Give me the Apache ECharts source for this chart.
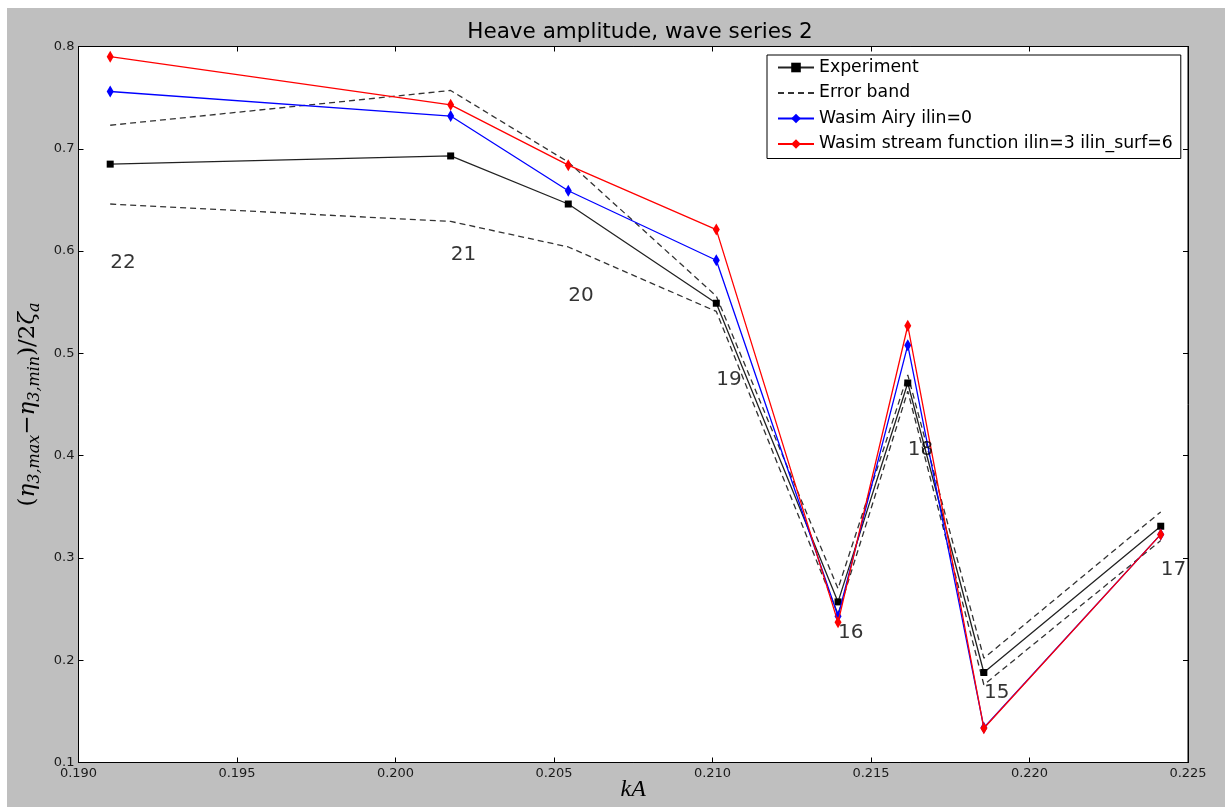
<!DOCTYPE html>
<html>
<head>
<meta charset="utf-8">
<title>Heave amplitude, wave series 2</title>
<script src="https://cdn.jsdelivr.net/npm/echarts@6/dist/echarts.min.js"></script>
<style>
  html, body { margin: 0; padding: 0; background: #ffffff; overflow: hidden; }
  #chart { position: absolute; left: 7px; top: 8px; width: 1218px; height: 799px; }
</style>
</head>
<body>
<div id="chart"></div>
<script>
// Wave steepness kA for each run of wave series 2
const kA = [0.1910, 0.20174, 0.20545, 0.21012, 0.21396, 0.21616, 0.21856, 0.22414];
// Run numbers written next to each point
const runIds = ['22', '21', '20', '19', '16', '18', '15', '17'];
// Normalised heave amplitude (eta3,max - eta3,min) / 2 zeta_a
const experiment = [0.685, 0.693, 0.646, 0.549, 0.257, 0.471, 0.188, 0.331];
const bandUpper  = [0.723, 0.757, 0.687, 0.556, 0.270, 0.479, 0.202, 0.345];
const bandLower  = [0.646, 0.629, 0.604, 0.541, 0.245, 0.463, 0.176, 0.317];
const airy       = [0.756, 0.732, 0.659, 0.591, 0.243, 0.508, 0.134, 0.323];
const stream     = [0.790, 0.743, 0.684, 0.621, 0.237, 0.527, 0.1335, 0.323];
// Vertical position of each run number label
const labelY     = [0.589, 0.596, 0.556, 0.474, 0.227, 0.406, 0.168, 0.288];

// Axis ticks
const xTicks = { min: 0.190, max: 0.225, step: 0.005 };
const yTicks = { min: 0.1, max: 0.8, step: 0.1 };

const pairs = (ys) => kA.map((x, i) => [x, ys[i]]);

const chart = echarts.init(document.getElementById('chart'), null, { renderer: 'canvas' });

const tickFont = { fontFamily: 'DejaVu Sans', fontSize: 13, color: '#1a1a1a' };

const option = {
  backgroundColor: '#bfbfbf',
  animation: false,
  textStyle: { fontFamily: 'DejaVu Sans' },
  title: {
    text: 'Heave amplitude, wave series 2',
    left: 628, top: 8, textAlign: 'center',
    textStyle: { fontFamily: 'DejaVu Sans', fontSize: 21.5, fontWeight: 'normal', color: '#000' }
  },
  legend: {
    orient: 'vertical',
    left: 760, top: 47,
    padding: [4, 8, 6, 10],
    itemWidth: 36, itemHeight: 12, itemGap: 8.5,
    backgroundColor: '#ffffff',
    borderColor: '#000000', borderWidth: 1, borderRadius: 0,
    textStyle: { fontFamily: 'DejaVu Sans', fontSize: 17.3, color: '#000', lineHeight: 17 },
    data: [
      'Experiment',
      { name: 'Error band', itemStyle: { opacity: 0 } },
      'Wasim Airy ilin=0',
      'Wasim stream function ilin=3 ilin_surf=6'
    ]
  },
  grid: {
    left: 71.5, right: 37, top: 38.5, bottom: 44.5,
    outerBoundsMode: 'none',
    show: true, backgroundColor: '#ffffff', borderColor: '#000000', borderWidth: 1
  },
  xAxis: [{
    type: 'value', min: xTicks.min, max: xTicks.max, interval: xTicks.step,
    name: 'kA', nameLocation: 'middle', nameGap: 15, nameMoveOverlap: false,
    nameTextStyle: { fontFamily: 'Liberation Serif', fontStyle: 'italic', fontSize: 24, color: '#000' },
    axisLine: { show: true, lineStyle: { color: '#000', width: 1 } },
    axisTick: { show: true, inside: true, length: 5, lineStyle: { color: '#000' } },
    axisLabel: Object.assign({ margin: 5, formatter: (v) => v.toFixed(3) }, tickFont),
    splitLine: { show: false }
  }, {
    type: 'value', position: 'top', min: xTicks.min, max: xTicks.max, interval: xTicks.step,
    axisLine: { show: true, lineStyle: { color: '#000', width: 1 } },
    axisTick: { show: true, inside: true, length: 5, lineStyle: { color: '#000' } },
    axisLabel: { show: false }, splitLine: { show: false }
  }],
  yAxis: [{
    type: 'value', min: yTicks.min, max: yTicks.max, interval: yTicks.step,
    name: '{u|(}{i|η}{s|3,max}{u|−}{i|η}{s|3,min}{u|)/2}{i|ζ}{s|a}',
    nameLocation: 'middle', nameGap: 27, nameRotate: 90,
    nameTextStyle: {
      color: '#000',
      rich: {
        u: { fontFamily: 'DejaVu Serif', fontSize: 23, lineHeight: 30, verticalAlign: 'middle', color: '#000' },
        i: { fontFamily: 'DejaVu Serif', fontStyle: 'italic', fontSize: 23, lineHeight: 30, verticalAlign: 'middle', color: '#000' },
        s: { fontFamily: 'DejaVu Serif', fontStyle: 'italic', fontSize: 16, lineHeight: 15, verticalAlign: 'bottom', color: '#000' }
      }
    },
    axisLine: { show: true, lineStyle: { color: '#000', width: 1 } },
    axisTick: { show: true, inside: true, length: 5, lineStyle: { color: '#000' } },
    axisLabel: Object.assign({ margin: 4, formatter: (v) => v.toFixed(1) }, tickFont),
    splitLine: { show: false }
  }, {
    type: 'value', position: 'right', min: yTicks.min, max: yTicks.max, interval: yTicks.step,
    axisLine: { show: true, lineStyle: { color: '#000', width: 1 } },
    axisTick: { show: true, inside: true, length: 5, lineStyle: { color: '#000' } },
    axisLabel: { show: false }, splitLine: { show: false }
  }],
  series: [
    {
      name: 'Experiment', type: 'line', data: pairs(experiment),
      symbol: 'rect', symbolSize: 7, showSymbol: true,
      lineStyle: { color: '#222', width: 1.3 },
      itemStyle: { color: '#000' },
      z: 2
    },
    {
      name: 'Error band', type: 'line', data: pairs(bandUpper),
      symbol: 'none',
      lineStyle: { color: '#333', width: 1.3, type: [6, 4] },
      itemStyle: { color: '#333' },
      z: 2
    },
    {
      name: 'Error band', type: 'line', data: pairs(bandLower),
      symbol: 'none',
      lineStyle: { color: '#333', width: 1.3, type: [6, 4] },
      itemStyle: { color: '#333' },
      z: 2
    },
    {
      name: 'Wasim Airy ilin=0', type: 'line', data: pairs(airy),
      symbol: 'diamond', symbolSize: [7, 12],
      lineStyle: { color: '#0000ff', width: 1.3 },
      itemStyle: { color: '#0000ff' },
      z: 3
    },
    {
      name: 'Wasim stream function ilin=3 ilin_surf=6', type: 'line', data: pairs(stream),
      symbol: 'diamond', symbolSize: [7, 12],
      lineStyle: { color: '#ff0000', width: 1.3 },
      itemStyle: { color: '#ff0000' },
      z: 4
    },
    {
      name: 'run numbers', type: 'scatter', silent: true,
      data: kA.map((x, i) => [x, labelY[i], runIds[i]]),
      symbol: 'circle', symbolSize: 0.1,
      itemStyle: { color: 'rgba(0,0,0,0)' },
      label: {
        show: true, position: 'right', distance: 0,
        formatter: (p) => p.value[2],
        fontFamily: 'DejaVu Sans', fontSize: 20, color: '#000'
      },
      z: 5
    }
  ]
};

chart.setOption(option);
</script>
</body>
</html>
